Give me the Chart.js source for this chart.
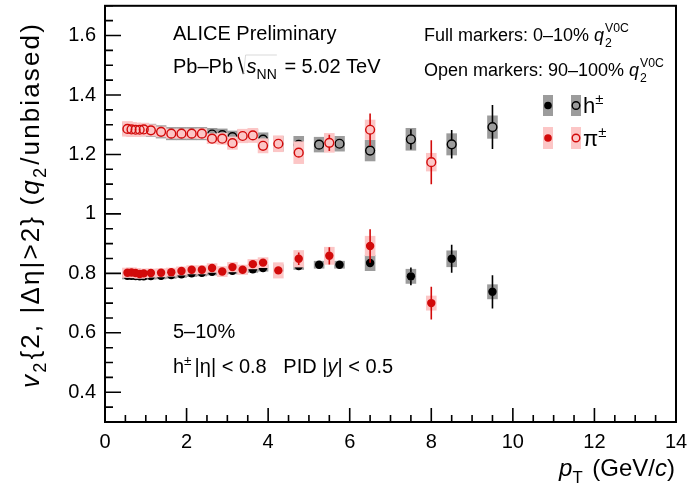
<!DOCTYPE html>
<html>
<head>
<meta charset="utf-8">
<script src="https://cdn.jsdelivr.net/npm/chart.js@4/dist/chart.umd.min.js"></script>
<style>
  html, body { margin: 0; padding: 0; background: #fff; }
  #wrap { width: 690px; height: 489px; }
</style>
</head>
<body>
<div id="wrap"><canvas id="c" width="690" height="489"></canvas></div>
<script>
// ---- pT bin centres (GeV/c) ----
const pionPt = [0.55, 0.65, 0.75, 0.85, 0.95, 1.125, 1.375, 1.625, 1.875, 2.125, 2.375, 2.625,
                2.875, 3.125, 3.375, 3.625, 3.875, 4.25, 4.75, 5.5, 6.5, 8.0];
const hadPt  = [0.55, 0.65, 0.75, 0.85, 0.95, 1.125, 1.375, 1.625, 1.875, 2.125, 2.375, 2.625,
                2.875, 3.125, 3.375, 3.625, 3.875, 4.25, 4.75, 5.25, 5.75, 6.5, 7.5, 8.5, 9.5];

// ---- pi± , 0-10% q2 (full markers) ----
const pionFull     = [0.802, 0.803, 0.801, 0.798, 0.800, 0.801, 0.802, 0.804, 0.808, 0.812, 0.812, 0.818,
                      0.806, 0.821, 0.812, 0.831, 0.836, 0.810, 0.849, 0.859, 0.892, 0.700];
const pionFullStat = [0.002, 0.002, 0.002, 0.002, 0.002, 0.002, 0.002, 0.002, 0.002, 0.002, 0.002, 0.003,
                      0.004, 0.004, 0.004, 0.005, 0.005, 0.008, 0.021, 0.029, 0.056, 0.055];
const pionFullSys  = [0.017, 0.017, 0.017, 0.016, 0.016, 0.015, 0.015, 0.015, 0.015, 0.015, 0.015, 0.016,
                      0.018, 0.017, 0.017, 0.017, 0.018, 0.027, 0.029, 0.030, 0.034, 0.025];

// ---- pi± , 90-100% q2 (open markers) ----
const pionOpen     = [1.286, 1.284, 1.283, 1.283, 1.284, 1.281, 1.276, 1.270, 1.270, 1.270, 1.270, 1.253,
                      1.253, 1.238, 1.262, 1.264, 1.229, 1.236, 1.206, 1.239, 1.283, 1.174];
const pionOpenStat = [0.002, 0.002, 0.002, 0.002, 0.002, 0.002, 0.002, 0.002, 0.002, 0.003, 0.003, 0.003,
                      0.004, 0.005, 0.005, 0.005, 0.006, 0.010, 0.015, 0.027, 0.055, 0.074];
const pionOpenSys  = [0.026, 0.025, 0.024, 0.023, 0.022, 0.020, 0.018, 0.017, 0.017, 0.017, 0.018, 0.018,
                      0.020, 0.022, 0.024, 0.025, 0.025, 0.028, 0.038, 0.033, 0.034, 0.031];

// ---- h± , 0-10% q2 (full markers) ----
const hadFull      = [0.792, 0.792, 0.791, 0.790, 0.790, 0.791, 0.792, 0.794, 0.797, 0.800, 0.802, 0.805,
                      0.807, 0.809, 0.811, 0.814, 0.818, 0.818, 0.825, 0.829, 0.829, 0.835, 0.790, 0.849, 0.738];
const hadFullStat  = [0.001, 0.001, 0.001, 0.001, 0.001, 0.001, 0.001, 0.001, 0.001, 0.001, 0.001, 0.001,
                      0.001, 0.001, 0.002, 0.002, 0.002, 0.002, 0.003, 0.004, 0.004, 0.012, 0.030, 0.047, 0.056];
const hadFullSys   = [0.012, 0.012, 0.012, 0.012, 0.012, 0.012, 0.012, 0.012, 0.012, 0.012, 0.012, 0.012,
                      0.012, 0.012, 0.012, 0.012, 0.012, 0.012, 0.013, 0.013, 0.013, 0.027, 0.025, 0.028, 0.025];

// ---- h± , 90-100% q2 (open markers) ----
const hadOpen      = [1.286, 1.284, 1.283, 1.283, 1.284, 1.281, 1.276, 1.270, 1.270, 1.270, 1.270, 1.267,
                      1.265, 1.258, 1.262, 1.264, 1.250, 1.236, 1.232, 1.233, 1.236, 1.213, 1.251, 1.234, 1.292];
const hadOpenStat  = [0.001, 0.001, 0.001, 0.001, 0.001, 0.001, 0.001, 0.001, 0.001, 0.001, 0.001, 0.001,
                      0.001, 0.002, 0.002, 0.002, 0.002, 0.002, 0.003, 0.005, 0.005, 0.012, 0.034, 0.048, 0.074];
const hadOpenSys   = [0.022, 0.022, 0.022, 0.022, 0.022, 0.022, 0.022, 0.022, 0.022, 0.022, 0.022, 0.022,
                      0.022, 0.022, 0.022, 0.022, 0.024, 0.026, 0.030, 0.026, 0.026, 0.036, 0.038, 0.037, 0.039];

// ---- axis ticks ----
const xTickLabels = [0, 2, 4, 6, 8, 10, 12, 14];
const yTickLabels = [0.4, 0.6, 0.8, 1.0, 1.2, 1.4, 1.6];

const FONT = '"Liberation Sans", Arial, Helvetica, sans-serif';
const RED = '#d20a0a';
const BLACK = '#000000';
const PINK = '#fcc6c6';
const GREY = '#9c9c9c';
const BOX_HALF_WIDTH = 0.13;   // half width of systematic boxes in pT

function fnt(size, italic) { return (italic ? 'italic ' : '') + size + 'px ' + FONT; }

// draw a run of text pieces: {t, i: italic, s: 'sub'|'sup'} or {stack: true, sub, sup}
function drawRuns(ctx, x, y, runs, size, measureOnly) {
  let cx = x;
  for (const r of runs) {
    if (r.stack) {
      const fs = size * 0.68;
      ctx.font = fnt(fs, false);
      const w1 = ctx.measureText(r.sub).width, w2 = ctx.measureText(r.sup).width;
      if (!measureOnly) {
        ctx.fillText(r.sub, cx + 1, y + size * 0.32);
        ctx.fillText(r.sup, cx + 1, y - size * 0.48);
      }
      cx += Math.max(w1, w2) + 1;
      continue;
    }
    let fs = size, dy = 0;
    if (r.s === 'sub') { fs = size * 0.7; dy = size * 0.28; }
    else if (r.s === 'sup') { fs = size * 0.68; dy = -size * 0.42; }
    ctx.font = fnt(fs, r.i);
    if (!measureOnly) ctx.fillText(r.t, cx, y + dy);
    cx += ctx.measureText(r.t).width + (r.gap || 0);
  }
  return cx - x;
}

function drawBoxes(ctx, xs, ys, pts, vals, sys, color) {
  ctx.fillStyle = color;
  for (let i = 0; i < pts.length; i++) {
    const x0 = xs.getPixelForValue(pts[i] - BOX_HALF_WIDTH);
    const x1 = xs.getPixelForValue(pts[i] + BOX_HALF_WIDTH);
    const y0 = ys.getPixelForValue(vals[i] + sys[i]);
    const y1 = ys.getPixelForValue(vals[i] - sys[i]);
    ctx.fillRect(x0, y0, x1 - x0, y1 - y0);
  }
}

function drawStat(ctx, xs, ys, pts, vals, err, color, r) {
  ctx.strokeStyle = color;
  ctx.lineWidth = 1.6;
  ctx.beginPath();
  for (let i = 0; i < pts.length; i++) {
    const px = xs.getPixelForValue(pts[i]);
    const py = ys.getPixelForValue(vals[i]);
    const top = ys.getPixelForValue(vals[i] + err[i]);
    const bot = ys.getPixelForValue(vals[i] - err[i]);
    if (py - r > top) { ctx.moveTo(px, top); ctx.lineTo(px, py - r); }
    if (py + r < bot) { ctx.moveTo(px, py + r); ctx.lineTo(px, bot); }
  }
  ctx.stroke();
}

const statSets = [
  { pts: pionPt, vals: pionFull, err: pionFullStat, color: RED, pion: true },
  { pts: pionPt, vals: pionOpen, err: pionOpenStat, color: RED, pion: true },
  { pts: hadPt,  vals: hadFull,  err: hadFullStat,  color: BLACK, pion: false },
  { pts: hadPt,  vals: hadOpen,  err: hadOpenStat,  color: BLACK, pion: false }
];

let pinkDone = false;

const decor = {
  id: 'decor',
  beforeDatasetsDraw(chart) {
    const { ctx, scales: { x, y } } = chart;
    pinkDone = false;
    ctx.save();
    drawBoxes(ctx, x, y, hadPt, hadFull, hadFullSys, GREY);
    drawBoxes(ctx, x, y, hadPt, hadOpen, hadOpenSys, GREY);
    ctx.restore();
  },
  beforeDatasetDraw(chart, args) {
    const { ctx, scales: { x, y } } = chart;
    const s = statSets[args.index];
    ctx.save();
    if (s.pion && !pinkDone) {
      // pion systematic boxes sit above the hadron markers
      drawBoxes(ctx, x, y, pionPt, pionFull, pionFullSys, PINK);
      drawBoxes(ctx, x, y, pionPt, pionOpen, pionOpenSys, PINK);
      pinkDone = true;
    }
    drawStat(ctx, x, y, s.pts, s.vals, s.err, s.color, 4);
    ctx.restore();
  },
  afterDraw(chart) {
    const { ctx, chartArea: a, scales: { x, y } } = chart;
    ctx.save();
    // frame
    ctx.strokeStyle = '#000';
    ctx.lineWidth = 2;
    ctx.strokeRect(a.left, a.top, a.right - a.left, a.bottom - a.top);
    // inward ticks
    ctx.lineWidth = 1.6;
    ctx.beginPath();
    for (let v = 0; v <= 14.001; v += 0.5) {
      const px = x.getPixelForValue(v);
      const major = Math.abs(v / 2 - Math.round(v / 2)) < 1e-6;
      ctx.moveTo(px, a.bottom);
      ctx.lineTo(px, a.bottom - (major ? 14 : 7));
    }
    for (let v = 0.3; v <= 1.7001; v += 0.05) {
      const py = y.getPixelForValue(v);
      const major = Math.abs(v / 0.2 - Math.round(v / 0.2)) < 1e-6;
      ctx.moveTo(a.left, py);
      ctx.lineTo(a.left + (major ? 16 : 8), py);
    }
    ctx.stroke();

    ctx.fillStyle = '#000';
    ctx.textBaseline = 'alphabetic';
    ctx.textAlign = 'left';

    // axis titles
    const xt = [{ t: 'p', i: true }, { t: 'T', s: 'sub', gap: 3 }, { t: ' (GeV/' }, { t: 'c', i: true }, { t: ')' }];
    const xw = drawRuns(ctx, 0, 0, xt, 24, true);
    drawRuns(ctx, 675 - xw, 476, xt, 24);

    const yt = [{ t: 'v', i: true }, { t: '2', s: 'sub', gap: 1 }, { t: '{2, |Δη|>2} (' }, { t: 'q', i: true },
                { t: '2', s: 'sub', gap: 1 }, { t: '/unbiased)' }];
    ctx.save();
    const natural = drawRuns(ctx, 0, 0, yt, 26, true);
    const chars = 'v2{2, |Δη|>2} (q2/unbiased)'.length;
    const spacing = Math.max(0, (366 - natural) / chars);
    ctx.letterSpacing = spacing.toFixed(2) + 'px';
    const yw = drawRuns(ctx, 0, 0, yt, 26, true);
    ctx.translate(39, 205);
    ctx.rotate(-Math.PI / 2);
    drawRuns(ctx, -yw / 2, 0, yt, 26);
    ctx.restore();

    // labels in the pad
    drawRuns(ctx, 173, 40, [{ t: 'ALICE Preliminary' }], 20);
    const w1 = drawRuns(ctx, 173, 73, [{ t: 'Pb–Pb ' }], 20);
    const rx = 173 + w1;
    const snn = [{ t: 's', i: true }, { t: 'NN', s: 'sub' }];
    const sw = drawRuns(ctx, rx + 8, 73, snn, 20);
    // radical sign
    ctx.lineWidth = 1.6;
    ctx.beginPath();
    ctx.moveTo(rx, 57);
    ctx.lineTo(rx + 5, 74);
    ctx.stroke();
    ctx.strokeStyle = '#c8c8c8';
    ctx.lineWidth = 0.7;
    ctx.beginPath();
    ctx.moveTo(rx + 5, 74);
    ctx.lineTo(rx + 7, 55);
    ctx.lineTo(rx + 8 + sw, 55);
    ctx.stroke();
    drawRuns(ctx, rx + 8 + sw + 2, 73, [{ t: ' = 5.02 TeV' }], 20);

    drawRuns(ctx, 424, 41, [{ t: 'Full markers: 0–10% ' }, { t: 'q', i: true }, { stack: true, sub: '2', sup: 'V0C' }], 18);
    drawRuns(ctx, 424, 76, [{ t: 'Open markers: 90–100% ' }, { t: 'q', i: true }, { stack: true, sub: '2', sup: 'V0C' }], 18);

    drawRuns(ctx, 173, 338, [{ t: '5–10%' }], 20);
    drawRuns(ctx, 173, 373, [{ t: 'h' }, { t: '±', s: 'sup', gap: 3 }, { t: '|η| < 0.8   PID |' }, { t: 'y', i: true }, { t: '| < 0.5' }], 20);

    // legend
    ctx.fillStyle = GREY;
    ctx.fillRect(543, 95, 10, 21);
    ctx.fillRect(571, 95, 10, 21);
    ctx.fillStyle = PINK;
    ctx.fillRect(543, 127, 10, 22);
    ctx.fillRect(571, 127, 10, 22);
    ctx.lineWidth = 1.4;
    ctx.fillStyle = BLACK;
    ctx.beginPath(); ctx.arc(548, 105.5, 3.8, 0, 2 * Math.PI); ctx.fill();
    ctx.strokeStyle = BLACK;
    ctx.beginPath(); ctx.arc(576, 105.5, 3.8, 0, 2 * Math.PI); ctx.stroke();
    ctx.fillStyle = RED;
    ctx.beginPath(); ctx.arc(548, 138, 3.8, 0, 2 * Math.PI); ctx.fill();
    ctx.strokeStyle = RED;
    ctx.beginPath(); ctx.arc(576, 138, 3.8, 0, 2 * Math.PI); ctx.stroke();
    ctx.fillStyle = '#000';
    drawRuns(ctx, 583, 113, [{ t: 'h' }, { t: '±', s: 'sup' }], 22);
    drawRuns(ctx, 583, 146, [{ t: 'π' }, { t: '±', s: 'sup' }], 22);
    ctx.restore();
  }
};

const ds = (pts, vals, filled, color, order) => ({
  data: pts.map((p, i) => ({ x: p, y: vals[i] })),
  showLine: false,
  pointStyle: 'circle',
  pointRadius: filled ? 4.2 : 4.4,
  pointBorderWidth: filled ? 0 : 1.4,
  pointBackgroundColor: filled ? color : 'rgba(0,0,0,0)',
  pointBorderColor: color,
  order: order
});

new Chart(document.getElementById('c'), {
  type: 'scatter',
  data: {
    datasets: [
      ds(pionPt, pionFull, true, RED, 1),
      ds(pionPt, pionOpen, false, RED, 1),
      ds(hadPt, hadFull, true, BLACK, 2),
      ds(hadPt, hadOpen, false, BLACK, 2)
    ]
  },
  options: {
    responsive: false,
    animation: false,
    devicePixelRatio: 1,
    events: [],
    layout: { padding: { left: 0, right: 14, top: 5, bottom: 0 } },
    plugins: { legend: { display: false }, tooltip: { enabled: false } },
    scales: {
      x: {
        type: 'linear', min: 0, max: 14,
        afterBuildTicks: s => { s.ticks = xTickLabels.map(v => ({ value: v })); },
        afterFit: s => { s.height = 67; s.paddingLeft = 0; s.paddingRight = 0; },
        grid: { display: false, drawTicks: false },
        border: { display: false },
        ticks: { color: '#000', font: { size: 20, family: FONT }, padding: 8, maxRotation: 0,
                 callback: v => String(v) }
      },
      y: {
        type: 'linear', min: 0.3, max: 1.7,
        afterBuildTicks: s => { s.ticks = yTickLabels.map(v => ({ value: v })); },
        afterFit: s => { s.width = 105; s.paddingTop = 0; s.paddingBottom = 0; },
        grid: { display: false, drawTicks: false },
        border: { display: false },
        ticks: { color: '#000', font: { size: 20, family: FONT }, padding: 9,
                 callback: v => (Math.abs(v - 1) < 1e-9 ? '1' : v.toFixed(1)) }
      }
    }
  },
  plugins: [decor]
});
</script>
</body>
</html>
